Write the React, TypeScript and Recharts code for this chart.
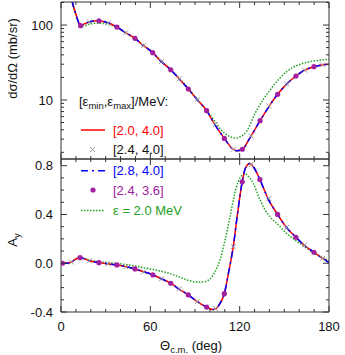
import { ComposedChart, Line, Scatter, XAxis, YAxis } from 'recharts';

const FONT = '"Liberation Sans", Arial, Helvetica, sans-serif';
const AXIS = '#333';
const RED = '#ff0000';
const BLUE = '#0000ff';
const PURPLE = '#a020a0';
const GREEN = '#22a022';
const GRAY = '#999999';

// x axis (Theta c.m., deg)
const xTicks = [0, 10, 20, 30, 40, 50, 60, 70, 80, 90, 100, 110, 120, 130, 140, 150, 160, 170, 180];
const xLabels = [0, 60, 120, 180];

// top panel: dsigma/dOmega (mb/sr), log axis
const xsTicks = [2, 3, 4, 5, 6, 7, 8, 9, 10, 20, 30, 40, 50, 60, 70, 80, 90, 100, 200];
const xsLabels = [10, 100];

// [2.0, 4.0] fit; the [2.8, 4.0] curve lies on top of it
const xsAngle = [4, 8, 10, 12, 13.2, 15, 19, 25, 31, 37.6, 43, 49.7, 55, 61.6, 67, 73.7, 79, 85.5, 91, 97.8, 103, 109.7, 115, 118, 121.8, 127, 133.7, 139, 145.5, 151, 157.8, 163, 169.9, 175, 180];
const xsFit = [600, 190, 140, 106, 98, 102, 110, 114, 108, 94, 80, 66.5, 54, 42.8, 33, 25.3, 19.5, 14.0, 10.3, 7.2, 4.8, 3.07, 2.25, 2.1, 2.2, 3.15, 5.3, 7.8, 11.9, 15.9, 20.9, 24.6, 27.8, 29.3, 29.9];

// eps = 2.0 MeV
const xsGreenAngle = [4, 8, 10, 12, 13.5, 16, 20, 25, 31, 37.6, 43, 49.7, 55, 61.6, 67, 73.7, 79, 85.5, 91, 97.8, 103, 107, 110, 114, 117, 120, 124.6, 130.3, 135, 140.4, 146, 151.5, 158, 163, 167.3, 174, 180];
const xsGreen = [600, 180, 135, 104, 96, 98, 104, 106, 103, 92, 79, 66, 54, 43, 33.5, 25.5, 19.8, 14.3, 10.6, 7.3, 5.3, 4.1, 3.6, 3.2, 3.1, 3.2, 3.8, 6.6, 9.6, 13.6, 18.6, 23.8, 28.5, 31, 32.4, 34, 34.9];

// [2.4, 3.6] points
const xsDotAngle = [13.2, 25.5, 37.6, 49.7, 61.6, 73.7, 85.5, 97.8, 109.7, 121.8, 133.7, 145.5, 157.8, 169.9];
const xsDot = [98, 114, 94, 66.5, 42.8, 25.3, 14.0, 7.2, 3.07, 2.2, 5.3, 11.9, 20.9, 27.8];

// [2.4, 4.0] points
const xsCrossAngle = [19, 31.5, 43.5, 55.5, 67.5, 79.5, 91.5, 103.7, 115.7, 127.7, 139.6, 151.6, 163.7, 175.7];
const xsCross = [110, 107, 79, 53, 32.5, 19.2, 10.1, 4.7, 2.2, 3.3, 8.3, 16.4, 25, 29.4];

// bottom panel: A_y
const ayTicks = [-0.4, -0.3, -0.2, -0.1, 0, 0.1, 0.2, 0.3, 0.4, 0.5, 0.6, 0.7, 0.8];
const ayLabels = [-0.4, 0, 0.4, 0.8];

const ayAngle = [0.7, 4, 7, 10, 12.8, 15, 19, 25.5, 31, 37.8, 43, 49.7, 55, 62, 67, 73.7, 79, 85.5, 91, 97.8, 101.6, 104, 106.5, 109.7, 112.5, 115.7, 118.5, 121.7, 124, 126.9, 129.5, 133.6, 139, 145.5, 151, 157.8, 163, 169.9, 175, 180];
const ayFit = [0, 0, 0.01, 0.035, 0.046, 0.04, 0.02, 0.005, -0.004, -0.014, -0.027, -0.047, -0.068, -0.096, -0.125, -0.164, -0.21, -0.26, -0.31, -0.36, -0.38, -0.372, -0.335, -0.25, -0.08, 0.136, 0.4, 0.668, 0.785, 0.818, 0.785, 0.687, 0.53, 0.40, 0.30, 0.213, 0.152, 0.09, 0.046, 0.005];

const ayGreenAngle = [0.7, 4, 7, 10, 12.8, 15, 19, 25.5, 31, 37.8, 43, 49.7, 55, 62, 67, 73.2, 79, 85.5, 90, 93.4, 97, 100, 103, 106.8, 110, 113.5, 116.5, 119, 121.5, 123.6, 126, 129.2, 133, 136.5, 140.4, 145.5, 151, 157.8, 163, 169.9, 175, 180];
const ayGreen = [0, 0, 0.01, 0.035, 0.046, 0.042, 0.026, 0.013, 0.006, -0.002, -0.01, -0.022, -0.035, -0.052, -0.065, -0.085, -0.11, -0.14, -0.152, -0.155, -0.15, -0.13, -0.08, 0.027, 0.18, 0.38, 0.56, 0.668, 0.72, 0.736, 0.71, 0.654, 0.54, 0.45, 0.38, 0.32, 0.25, 0.185, 0.14, 0.082, 0.05, 0.022];

const ayDotAngle = [1, 12.8, 25.5, 37.6, 49.7, 61.7, 73.7, 85.5, 97.8, 109.7, 121.7, 133.6, 145.5, 157.8, 169.9];
const ayDot = [0, 0.046, 0.005, -0.014, -0.047, -0.096, -0.164, -0.26, -0.36, -0.25, 0.668, 0.687, 0.40, 0.213, 0.09];

const ayCrossAngle = [7, 19, 31.5, 43.5, 55.5, 67.5, 79.5, 91.5, 103.7, 115.7, 127.7, 139.6, 151.6, 163.7, 175.7];
const ayCross = [0.01, 0.02, -0.005, -0.028, -0.07, -0.128, -0.21, -0.315, -0.372, 0.136, 0.81, 0.53, 0.295, 0.15, 0.04];

const zip = (t: number[], v: number[]) => t.map((a, i) => ({ t: a, v: v[i] }));

const tickText = { fontFamily: FONT, fontSize: 13, fill: '#111' };

// inward tick marks, labels only on majors
const xTick = (side: 'top' | 'bottom', withLabels: boolean) => (p: any) => {
  const major = xLabels.includes(p.payload.value);
  const len = major ? 6 : 3;
  const dir = side === 'bottom' ? -1 : 1;
  return (
    <g>
      <line x1={p.x} x2={p.x} y1={p.y} y2={p.y + dir * len} stroke={AXIS} />
      {withLabels && major && (
        <text x={p.x} y={p.y + 19} textAnchor="middle" {...tickText}>
          {p.payload.value}
        </text>
      )}
    </g>
  );
};

const yTick = (side: 'left' | 'right', majors: number[], fmt?: (v: number) => string) => (p: any) => {
  const v = p.payload.value;
  const major = majors.some((m) => Math.abs(m - v) < 1e-9);
  const len = major ? 6 : 3;
  const dir = side === 'left' ? 1 : -1;
  return (
    <g>
      <line x1={p.x} x2={p.x + dir * len} y1={p.y} y2={p.y} stroke={AXIS} />
      {fmt && major && (
        <text x={p.x - 8} y={p.y} dy="0.36em" textAnchor="end" {...tickText}>
          {fmt(v)}
        </text>
      )}
    </g>
  );
};

const cross = (p: any) => (
  <path
    d={`M${p.cx - 2.5},${p.cy - 2.5}L${p.cx + 2.5},${p.cy + 2.5}M${p.cx - 2.5},${p.cy + 2.5}L${p.cx + 2.5},${p.cy - 2.5}`}
    stroke={GRAY}
    strokeWidth={1}
  />
);
const dot = (p: any) => <circle cx={p.cx} cy={p.cy} r={2.6} fill={PURPLE} />;

function Axes({ yDomain, yTicks, yMajors, fmt, log, topH, bottomH, xLabelsOn }: any) {
  return [
    <XAxis key="xb" xAxisId="b" dataKey="t" type="number" orientation="bottom" domain={[0, 180]} allowDataOverflow ticks={xTicks} interval={0} height={bottomH} tickSize={0} tickMargin={0} tickLine={false} axisLine={{ stroke: AXIS }} tick={xTick('bottom', xLabelsOn)} />,
    <XAxis key="xt" xAxisId="t" dataKey="t" type="number" orientation="top" domain={[0, 180]} allowDataOverflow ticks={xTicks} interval={0} height={topH} tickSize={0} tickMargin={0} tickLine={false} axisLine={{ stroke: AXIS }} tick={xTick('top', false)} />,
    <YAxis key="yl" yAxisId="l" dataKey="v" type="number" scale={log ? 'log' : 'auto'} orientation="left" domain={yDomain} allowDataOverflow ticks={yTicks} interval={0} width={61} tickSize={0} tickMargin={0} tickLine={false} axisLine={{ stroke: AXIS }} tick={yTick('left', yMajors, fmt)} />,
    <YAxis key="yr" yAxisId="r" dataKey="v" type="number" scale={log ? 'log' : 'auto'} orientation="right" domain={yDomain} allowDataOverflow ticks={yTicks} interval={0} width={16} tickSize={0} tickMargin={0} tickLine={false} axisLine={{ stroke: AXIS }} tick={yTick('right', yMajors)} />,
  ];
}

function Series({ fit, green, dots, crosses }: any) {
  return [
    <Line key="g" xAxisId="b" yAxisId="l" data={green} dataKey="v" type="monotone" stroke={GREEN} strokeWidth={1.5} strokeDasharray="1.5 1.5" dot={false} isAnimationActive={false} />,
    <Line key="r" xAxisId="b" yAxisId="l" data={fit} dataKey="v" type="monotone" stroke={RED} strokeWidth={1.5} dot={false} isAnimationActive={false} />,
    <Line key="bl" xAxisId="b" yAxisId="l" data={fit} dataKey="v" type="monotone" stroke={BLUE} strokeWidth={1.5} strokeDasharray="7 4 2 4" dot={false} isAnimationActive={false} />,
    <Scatter key="x" xAxisId="b" yAxisId="l" data={crosses} dataKey="v" shape={cross} isAnimationActive={false} />,
    <Scatter key="d" xAxisId="b" yAxisId="l" data={dots} dataKey="v" shape={dot} isAnimationActive={false} />,
  ];
}

const sub = { fontSize: 9.5 };

export default function App() {
  return (
    <div style={{ position: 'absolute', left: 0, top: 0, width: 345, height: 355, background: '#fff', fontFamily: FONT }}>
      <div style={{ position: 'absolute', left: 0, top: 0 }}>
        <ComposedChart width={345} height={160} margin={{ top: 0, right: 0, bottom: 0, left: 0 }}>
          {Axes({ yDomain: [1.63, 203], yTicks: xsTicks, yMajors: xsLabels, fmt: (v: number) => String(v), log: true, topH: 2, bottomH: 1, xLabelsOn: false })}
          {Series({ fit: zip(xsAngle, xsFit), green: zip(xsGreenAngle, xsGreen), dots: zip(xsDotAngle, xsDot), crosses: zip(xsCrossAngle, xsCross) })}
        </ComposedChart>
      </div>
      <div style={{ position: 'absolute', left: 0, top: 156 }}>
        <ComposedChart width={345} height={199} margin={{ top: 0, right: 0, bottom: 0, left: 0 }}>
          {Axes({ yDomain: [-0.4, 0.855], yTicks: ayTicks, yMajors: ayLabels, fmt: (v: number) => v.toFixed(1), log: false, topH: 3, bottomH: 43, xLabelsOn: true })}
          {Series({ fit: zip(ayAngle, ayFit), green: zip(ayGreenAngle, ayGreen), dots: zip(ayDotAngle, ayDot), crosses: zip(ayCrossAngle, ayCross) })}
        </ComposedChart>
      </div>
      <svg width={345} height={355} style={{ position: 'absolute', left: 0, top: 0, pointerEvents: 'none' }}>
        <g fontFamily={FONT} fontSize={13}>
          <text x={16.5} y={58.5} textAnchor="middle" transform="rotate(-90 16.5 58.5)" fill="#111">dσ/dΩ (mb/sr)</text>
          <text x={16.7} y={240} textAnchor="middle" transform="rotate(-90 16.7 240)" fill="#111">
            A<tspan {...sub} dy={3}>y</tspan>
          </text>
          <text x={160} y={350} fill="#111">
            Θ<tspan {...sub} dy={3}>c.m.</tspan>
            <tspan dy={-3}> (deg)</tspan>
          </text>

          <text x={79} y={106} fill="#111">
            [ε<tspan {...sub} dy={3}>min</tspan>
            <tspan dy={-3}>,ε</tspan>
            <tspan {...sub} dy={3}>max</tspan>
            <tspan dy={-3}>]/MeV:</tspan>
          </text>

          <line x1={81} x2={105} y1={130} y2={130} stroke={RED} strokeWidth={1.5} />
          <text x={113} y={134.5} fill={RED}>[2.0, 4.0]</text>

          <path d="M90,147L95,152M90,152L95,147" stroke={GRAY} />
          <text x={113} y={154} fill="#111">[2.4, 4.0]</text>

          <line x1={81} x2={105} y1={170.7} y2={170.7} stroke={BLUE} strokeWidth={1.5} strokeDasharray="7 4 2 4" />
          <text x={113} y={175} fill={BLUE}>[2.8, 4.0]</text>

          <circle cx={93} cy={190} r={2.6} fill={PURPLE} />
          <text x={113} y={194.5} fill={PURPLE}>[2.4, 3.6]</text>

          <line x1={81} x2={105} y1={210.5} y2={210.5} stroke={GREEN} strokeWidth={1.5} strokeDasharray="1.5 1.5" />
          <text x={113} y={215} fill={GREEN}>ε = 2.0 MeV</text>
        </g>
      </svg>
    </div>
  );
}
